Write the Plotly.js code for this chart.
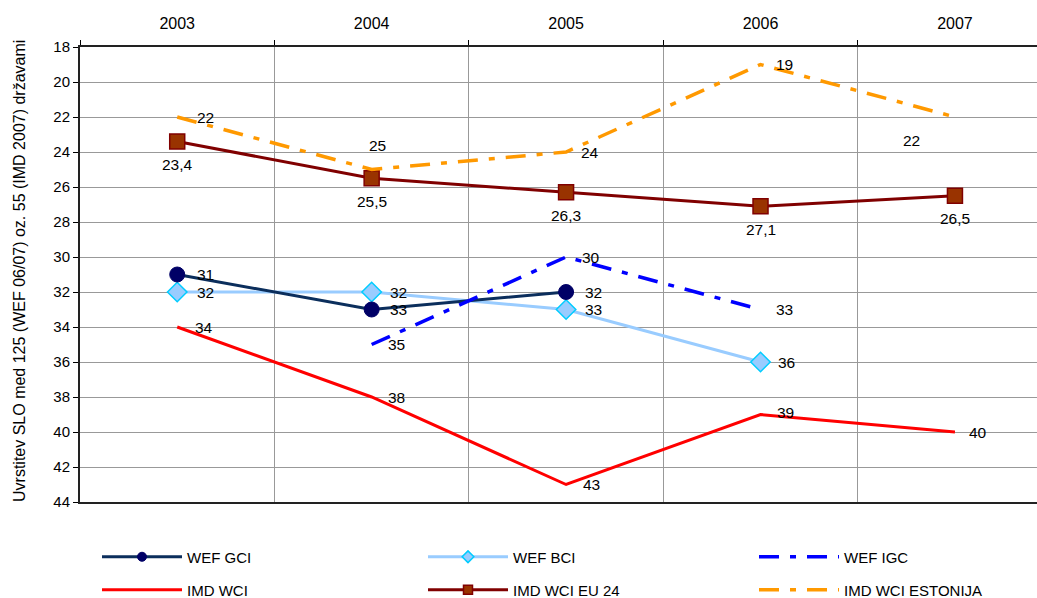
<!DOCTYPE html>
<html>
<head>
<meta charset="utf-8">
<script src="https://cdn.plot.ly/plotly-3.0.1.min.js"></script>
<style>html,body{margin:0;padding:0;background:#fff;}#chart{width:1037px;height:598px;}</style>
</head>
<body>
<div id="chart"></div>
<script>
// ---- data ----
const years = ["2003", "2004", "2005", "2006", "2007"];
const wefGCI = [31, 33, 32, null, null];
const wefBCI = [32, 32, 33, 36, null];
const wefIGC = [null, 35, 30, 33, null];
const imdWCI = [34, 38, 43, 39, 40];
const imdEU24 = [23.4, 25.5, 26.3, 27.1, 26.5];
const imdEstonija = [22, 25, 24, 19, 22];
const seriesNames = ["WEF GCI", "WEF BCI", "WEF IGC", "IMD WCI", "IMD WCI EU 24", "IMD WCI ESTONIJA"];
const yTitle = "Uvrstitev SLO med 125 (WEF 06/07) oz. 55 (IMD 2007) državami";

// ---- styling ----
const FONT = "Liberation Sans, Arial, sans-serif";
const dashDot = "20px,11px,6px,11px";
const styles = [
  {data: wefGCI, line: {color: "#0B2E5C", width: 3}, marker: {symbol: "circle", size: 15, color: "#000066", line: {color: "#000066", width: 1}}, mode: "lines+markers"},
  {data: wefBCI, line: {color: "#99CCFF", width: 3}, marker: {symbol: "diamond", size: 15, color: "#99CCFF", line: {color: "#00CCFF", width: 1.5}}, mode: "lines+markers"},
  {data: wefIGC, line: {color: "#0000FF", width: 3.5, dash: dashDot}, mode: "lines"},
  {data: imdWCI, line: {color: "#FF0000", width: 3}, mode: "lines"},
  {data: imdEU24, line: {color: "#800000", width: 3}, marker: {symbol: "square", size: 15, color: "#993300", line: {color: "#800000", width: 1.5}}, mode: "lines+markers"},
  {data: imdEstonija, line: {color: "#FF9900", width: 3.5, dash: dashDot}, mode: "lines"}
];
// label offsets (px) per series, per point: [dx, dy]
const labelOffsets = [
  [[28,0],[27,0],[27,0],null,null],
  [[28,0],[27,0],[27,0],[26,0],null],
  [null,[25,0],[25,0],[24,0],null],
  [[27,0],[25,0],[25,0],[25,-2],[23,0]],
  [[0,23],[0,23],[0,23],[0,23],[0,23]],
  [[28,0],[6,-24],[24,0],[24,0],[-43,23]]
];

const drawOrder = [3, 1, 0, 2, 4, 5];
const legendPos = [
  {x: 105, y: 557}, {x: 431, y: 557}, {x: 762, y: 557},
  {x: 105, y: 590}, {x: 431, y: 590}, {x: 762, y: 590}
];
const L = 80, R = 1037, T = 47, B = 502;
const px2x = p => (p - L) / (R - L);
const px2y = p => (B - p) / (B - T);

const traces = [];
const annotations = [];
const layout = {
  width: 1037, height: 598,
  margin: {l: L, r: 1037 - R, t: T, b: 598 - B, pad: 0, autoexpand: false},
  paper_bgcolor: "#fff", plot_bgcolor: "#fff",
  font: {family: FONT, size: 15, color: "#000"},
  showlegend: true,
  xaxis: {
    type: "category", categoryorder: "array", categoryarray: years,
    side: "top", range: [-0.5, 4.422], tickson: "boundaries",
    ticks: "outside", ticklen: 5, tickcolor: "#000", tickwidth: 1,
    showgrid: true, gridcolor: "#999999", gridwidth: 1,
    showline: true, linecolor: "#222", linewidth: 2, mirror: true,
    tickfont: {family: FONT, size: 16, color: "#000"},
    ticklabelstandoff: 10, fixedrange: true, automargin: false
  },
  yaxis: {
    range: [44, 18], tick0: 18, dtick: 2,
    ticks: "outside", ticklen: 5, tickcolor: "#000",
    showgrid: true, gridcolor: "#999999", gridwidth: 1,
    showline: true, linecolor: "#222", linewidth: 2, zeroline: false,
    tickfont: {family: FONT, size: 15, color: "#000"}, fixedrange: true, automargin: false
  },
  annotations: annotations
};

// plotted series (no legend)
drawOrder.forEach(i => {
  const s = styles[i];
  const t = {
    type: "scatter", x: years, y: s.data, name: seriesNames[i], mode: s.mode,
    line: s.line, connectgaps: false, showlegend: false, hoverinfo: "skip"
  };
  if (s.marker) t.marker = s.marker;
  traces.push(t);
});

// legend entries (smaller legend markers, as in the original)
styles.forEach((s, i) => {
  const legName = i === 0 ? "legend" : "legend" + (i + 1);
  const t = {
    type: "scatter", x: [null], y: [null], name: seriesNames[i], mode: s.mode,
    line: s.line, legend: legName, showlegend: true, hoverinfo: "skip"
  };
  if (s.marker) t.marker = Object.assign({}, s.marker, {size: 9});
  traces.push(t);
  layout[legName] = {
    x: px2x(legendPos[i].x - 8), y: px2y(legendPos[i].y), xanchor: "left", yanchor: "middle",
    orientation: "h", itemwidth: 80, bgcolor: "rgba(0,0,0,0)", borderwidth: 0,
    font: {family: FONT, size: 15, color: "#000"}, itemclick: false, itemdoubleclick: false
  };
});

styles.forEach((s, i) => {
  s.data.forEach((v, j) => {
    if (v === null) return;
    const off = labelOffsets[i][j] || [25, 0];
    annotations.push({
      x: j, y: v, xref: "x", yref: "y",
      text: String(v).replace(".", ","), showarrow: false,
      xanchor: "center", yanchor: "middle", xshift: off[0], yshift: -off[1],
      font: {family: FONT, size: 15.5, color: "#000"}
    });
  });
});

annotations.push({
  xref: "paper", yref: "paper", x: px2x(19), y: px2y(271),
  text: yTitle, textangle: -90, showarrow: false,
  xanchor: "center", yanchor: "middle",
  font: {family: FONT, size: 16, color: "#000"}
});

Plotly.newPlot("chart", traces, layout, {displayModeBar: false, staticPlot: true});
</script>
</body>
</html>
